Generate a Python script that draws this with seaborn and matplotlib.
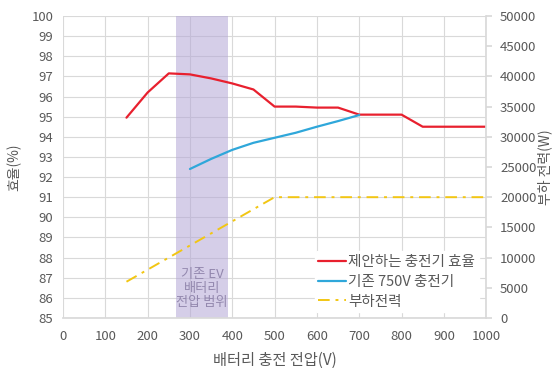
import matplotlib
matplotlib.use("Agg")
import matplotlib.pyplot as plt
import seaborn as sns
import pandas as pd

sns.set_theme(style="white")
plt.rcParams['font.family'] = ['Noto Sans CJK KR', 'DejaVu Sans']

# Proposed charger efficiency (%)
prop_v = [150, 200, 250, 300, 350, 400, 450, 500, 550, 600, 650, 700, 750, 800, 850, 900, 950, 1000]
prop_eff = [94.95, 96.2, 97.15, 97.1, 96.9, 96.65, 96.35, 95.5, 95.5, 95.45, 95.45, 95.1, 95.1, 95.1, 94.5, 94.5, 94.5, 94.5]

# Conventional 750 V charger efficiency (%)
conv_v = [300, 350, 400, 450, 500, 550, 600, 650, 700]
conv_eff = [92.4, 92.9, 93.35, 93.7, 93.95, 94.2, 94.5, 94.78, 95.08]

# Load power (W)
load_v = [150, 200, 250, 300, 350, 400, 450, 500, 600, 700, 800, 900, 1000]
load_w = [6000, 8000, 10000, 12000, 14000, 16000, 18000, 20000, 20000, 20000, 20000, 20000, 20000]

ev_range = (266, 391)

tick_color = "#595959"
grid_color = "#D9D9D9"

fig = plt.figure(figsize=(5.55, 3.68), dpi=100)
ax = fig.add_axes([0.1135, 0.136, 0.7625, 0.8205])
ax2 = ax.twinx()

ax.axvspan(*ev_range, color="#B4A7D6", alpha=0.55, lw=0, zorder=1)
ax.text(sum(ev_range) / 2, 86.45, "기존 EV\n배터리\n전압 범위", ha="center", va="center",
        color="#9388AE", fontsize=9.5, linespacing=1.1, zorder=2)

df_prop = pd.DataFrame({"v": prop_v, "eff": prop_eff})
df_conv = pd.DataFrame({"v": conv_v, "eff": conv_eff})
df_load = pd.DataFrame({"v": load_v, "w": load_w})

sns.lineplot(data=df_prop, x="v", y="eff", ax=ax, color="#E8202E", lw=1.6, zorder=4,
             label="제안하는 충전기 효율", legend=False)
sns.lineplot(data=df_conv, x="v", y="eff", ax=ax, color="#2FA7DA", lw=1.6, zorder=4,
             label="기존 750V 충전기", legend=False)
sns.lineplot(data=df_load, x="v", y="w", ax=ax2, color="#F2C613", lw=1.4,
             dashes=False, label="부하전력", legend=False)
ax2.lines[0].set_linestyle((0, (6, 3, 1.5, 3)))

ax.set_xlim(0, 1000)
ax.set_ylim(85, 100)
ax.set_xticks(range(0, 1001, 100))
ax.set_yticks(range(85, 101))
ax2.set_ylim(0, 50000)
ax2.set_yticks(range(0, 50001, 5000))

ax.grid(True, color=grid_color, lw=0.8, zorder=0)
ax.set_axisbelow(True)
ax2.grid(False)

for a in (ax, ax2):
    for s in a.spines.values():
        s.set_visible(False)
ax2.spines["right"].set_visible(True)
ax2.spines["right"].set_color(grid_color)
ax2.spines["bottom"].set_visible(True)
ax2.spines["bottom"].set_color(grid_color)

ax.tick_params(axis="x", length=0, labelsize=9.5, labelcolor=tick_color, pad=9)
ax.tick_params(axis="y", length=0, labelsize=9.5, labelcolor=tick_color, pad=7)
ax2.tick_params(axis="y", length=4, color=grid_color, labelsize=9.5, labelcolor=tick_color, pad=6)

ax.set_xlabel("배터리 충전 전압(V)", fontsize=11, color=tick_color, labelpad=6)
ax.set_ylabel("효율(%)", fontsize=10, color=tick_color, labelpad=7)
ax2.set_ylabel("부하 전력(W)", fontsize=10, color=tick_color, labelpad=1)

handles = ax.get_lines()[:2] + ax2.get_lines()[:1]
labels = [h.get_label() for h in handles]
leg = ax2.legend(handles, labels, loc="lower right", bbox_to_anchor=(1.0, -0.005),
                 frameon=True, facecolor="white", edgecolor="white", framealpha=1,
                 fontsize=10.5, handlelength=1.9, handletextpad=0.15, labelspacing=0.4,
                 borderpad=0.25)
for t in leg.get_texts():
    t.set_color(tick_color)

fig.savefig("out.png", dpi=100)
